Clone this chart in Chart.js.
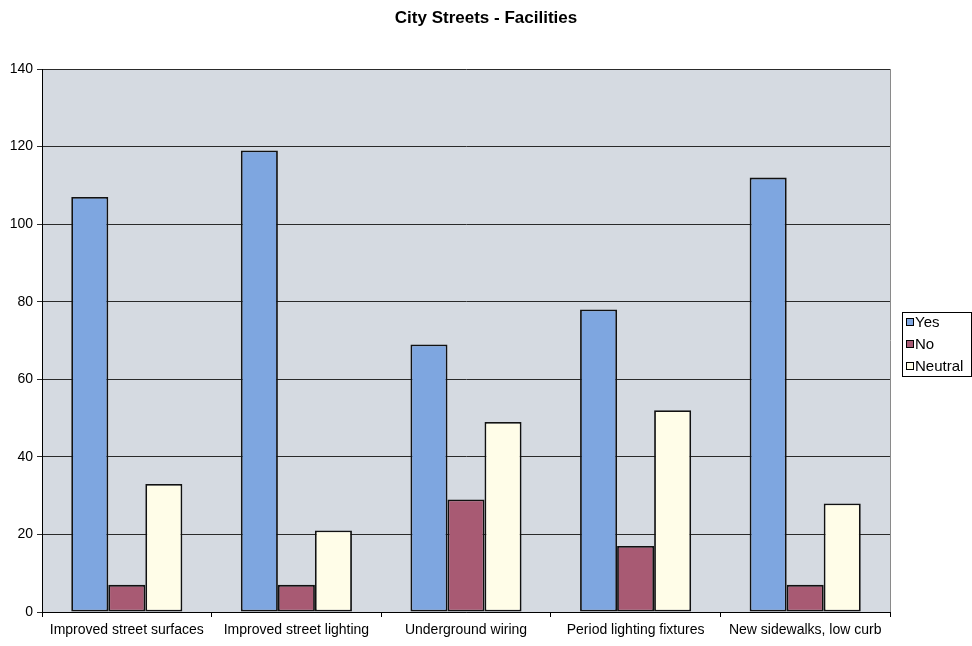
<!DOCTYPE html>
<html>
<head>
<meta charset="utf-8">
<script src="https://cdn.jsdelivr.net/npm/chart.js@4/dist/chart.umd.min.js"></script>
<style>
  html, body { margin: 0; padding: 0; background: #ffffff; }
  #wrap { width: 972px; height: 646px; position: relative; }
</style>
</head>
<body>
<div id="wrap"><canvas id="chart"></canvas></div>
<script>
// Survey responses per facility
const categories = [
  'Improved street surfaces',
  'Improved street lighting',
  'Underground wiring',
  'Period lighting fixtures',
  'New sidewalks, low curb'
];
const seriesNames = ['Yes', 'No', 'Neutral'];
const yesValues = [107, 119, 69, 78, 112];
const noValues = [7, 7, 29, 17, 7];
const neutralValues = [33, 21, 49, 52, 28];
const yTickValues = [0, 20, 40, 60, 80, 100, 120, 140];

const colors = ['#7ea6e0', '#a85a73', '#fffde8'];
const FONT = "'Liberation Sans', Arial, sans-serif";

// Grey plot area and its right-hand frame
const plotFrame = {
  id: 'plotFrame',
  beforeDraw(chart) {
    const { ctx, chartArea: a } = chart;
    ctx.save();
    ctx.fillStyle = '#d5dae1';
    ctx.fillRect(a.left, a.top, a.right - a.left, a.bottom - a.top);
    ctx.restore();
  },
  afterDatasetsDraw(chart) {
    const { ctx, chartArea: a } = chart;
    ctx.save();
    ctx.strokeStyle = '#8a8a8a';
    ctx.lineWidth = 1;
    ctx.beginPath();
    ctx.moveTo(a.right + 0.5, a.top);
    ctx.lineTo(a.right + 0.5, a.bottom);
    ctx.stroke();
    ctx.restore();
  }
};

// Framed legend at the right, built from the datasets
const boxedLegend = {
  id: 'boxedLegend',
  afterDraw(chart) {
    const { ctx } = chart;
    const sets = chart.data.datasets;
    const x0 = 902, y0 = 312, rowH = 22;
    const w = 69, h = rowH * sets.length - 2;
    ctx.save();
    ctx.strokeStyle = '#000';
    ctx.lineWidth = 1;
    ctx.strokeRect(x0 + 0.5, y0 + 0.5, w, h);
    ctx.font = '15px ' + FONT;
    ctx.textBaseline = 'middle';
    ctx.textAlign = 'left';
    sets.forEach((ds, i) => {
      const cy = y0 + 10 + i * rowH;
      ctx.fillStyle = ds.backgroundColor;
      ctx.fillRect(x0 + 4, cy - 4, 8, 8);
      ctx.strokeStyle = '#000';
      ctx.lineWidth = 1;
      ctx.strokeRect(x0 + 4.5, cy - 3.5, 7, 7);
      ctx.fillStyle = '#000';
      ctx.fillText(ds.label, x0 + 13, cy + 1);
    });
    ctx.restore();
  }
};

const datasets = [yesValues, noValues, neutralValues].map((vals, i) => ({
  label: seriesNames[i],
  data: vals,
  backgroundColor: colors[i],
  borderColor: '#111',
  borderWidth: 1.8,
  borderSkipped: false,
  categoryPercentage: 0.655,
  barPercentage: 1.0
}));

new Chart(document.getElementById('chart'), {
  type: 'bar',
  data: { labels: categories, datasets },
  options: {
    responsive: true,
    maintainAspectRatio: false,
    animation: false,
    layout: { padding: 0 },
    plugins: {
      legend: { display: false },
      tooltip: { enabled: false },
      title: {
        display: true,
        text: 'City Streets - Facilities',
        color: '#000',
        font: { family: FONT, size: 17, weight: 'bold' },
        padding: { top: 8, bottom: 40.6 }
      }
    },
    scales: {
      x: {
        grid: {
          offset: true,
          drawOnChartArea: false,
          drawTicks: true,
          tickLength: 5,
          color: '#000'
        },
        border: { color: '#000', width: 1 },
        ticks: {
          color: '#000',
          font: { family: FONT, size: 14 },
          padding: 5,
          maxRotation: 0,
          autoSkip: false
        },
        afterFit(scale) { scale.height = 34; }
      },
      y: {
        min: 0,
        max: 140,
        afterBuildTicks(scale) {
          scale.ticks = yTickValues.map(v => ({ value: v }));
        },
        grid: {
          color: '#2a2a2a',
          lineWidth: 1,
          tickLength: 5,
          drawTicks: true
        },
        border: { color: '#000', width: 1 },
        ticks: {
          color: '#000',
          font: { family: FONT, size: 14 },
          padding: 4
        },
        afterFit(scale) { scale.width = 42; }
      },
      // empty gutter on the right that holds the legend
      gutter: {
        type: 'linear',
        position: 'right',
        display: true,
        grid: { display: false, drawTicks: false },
        border: { display: false },
        ticks: { display: false },
        afterFit(scale) { scale.width = 82; }
      }
    }
  },
  plugins: [plotFrame, boxedLegend]
});
</script>
</body>
</html>
